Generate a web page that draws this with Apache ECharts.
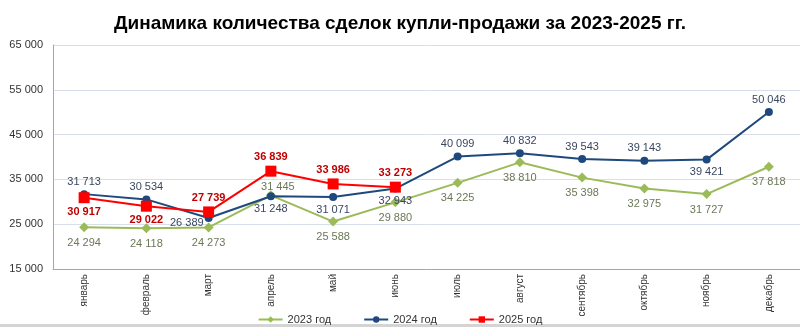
<!DOCTYPE html>
<html><head><meta charset="utf-8">
<script src="https://cdn.jsdelivr.net/npm/echarts@6/dist/echarts.min.js"></script>
<style>html,body{margin:0;padding:0;background:#fff}#c{width:800px;height:327px}</style>
</head><body><div id="c"></div>
<script>
// Monthly number of purchase-sale deals
const months = ['январь','февраль','март','апрель','май','июнь','июль','август','сентябрь','октябрь','ноябрь','декабрь'];
const deals2023 = [24294, 24118, 24273, 31445, 25588, 29880, 34225, 38810, 35398, 32975, 31727, 37818];
const deals2024 = [31713, 30534, 26389, 31248, 31071, 32943, 40099, 40832, 39543, 39143, 39421, 50046];
const deals2025 = [30917, 29022, 27739, 36839, 33986, 33273];
const yTicks = [15000, 25000, 35000, 45000, 55000, 65000];

// label placement per point
const pos2023 = ['bottom','bottom','bottom','top','bottom','bottom','bottom','bottom','bottom','bottom','bottom','bottom'];
const pos2024 = ['top','top','left','bottom','bottom','bottom','top','top','top','top','bottom','top'];
const pos2025 = ['bottom','bottom','top','top','top','top'];

const fmt = v => String(v).replace(/\B(?=(\d{3})+(?!\d))/g, ' ');

function points(values, positions, extra) {
  return values.map((v, i) => ({ value: v, label: Object.assign({ position: positions[i] }, extra && extra[i] || {}) }));
}

const chart = echarts.init(document.getElementById('c'), null, { renderer: 'canvas' });
chart.setOption({
  animation: false,
  textStyle: { fontFamily: 'Liberation Sans, Arial, sans-serif' },
  title: {
    text: 'Динамика количества сделок купли-продажи за 2023-2025 гг.',
    left: 'center', top: 9,
    textStyle: { fontSize: 19, fontWeight: 'bold', color: '#000' }
  },
  legend: {
    bottom: -3, left: 'center', itemWidth: 24, itemHeight: 8, itemGap: 32,
    textStyle: { fontSize: 11, color: '#333' },
    data: ['2023 год', '2024 год', '2025 год']
  },
  grid: { left: 53, right: 0, top: 45, bottom: 58 },
  xAxis: {
    type: 'category', data: months, boundaryGap: true,
    axisLine: { lineStyle: { color: '#a6a6a6' } },
    axisTick: { show: false },
    axisLabel: { rotate: 90, fontSize: 10, color: '#333', margin: 5 }
  },
  yAxis: {
    type: 'value', min: yTicks[0], max: yTicks[yTicks.length - 1], interval: 10000,
    axisLine: { show: true, lineStyle: { color: '#a6a6a6' } },
    axisTick: { show: false },
    splitLine: { lineStyle: { color: '#d9dfea' } },
    axisLabel: { fontSize: 11, color: '#333', formatter: fmt, margin: 10 }
  },
  graphic: [{
    type: 'rect', left: 0, bottom: 0, shape: { width: 800, height: 3 },
    style: { fill: '#d4d4d4' }, silent: true
  }],
  series: [
    {
      name: '2023 год', type: 'line',
      data: points(deals2023, pos2023, { 3: { offset: [7, 7] } }),
      symbol: 'diamond', symbolSize: 10,
      lineStyle: { color: '#9bbb59', width: 2 }, itemStyle: { color: '#9bbb59' },
      label: { show: true, formatter: p => fmt(p.value), fontSize: 11, color: '#6b7857', distance: 5 },
      z: 2
    },
    {
      name: '2024 год', type: 'line',
      data: points(deals2024, pos2024, { 2: { offset: [2, 5] } }),
      symbol: 'circle', symbolSize: 8,
      lineStyle: { color: '#1f497d', width: 2 }, itemStyle: { color: '#1f497d' },
      label: { show: true, formatter: p => fmt(p.value), fontSize: 11, color: '#3a4660', distance: 3 },
      z: 3
    },
    {
      name: '2025 год', type: 'line', data: points(deals2025, pos2025),
      symbol: 'rect', symbolSize: 11,
      lineStyle: { color: '#ff0000', width: 2 }, itemStyle: { color: '#ff0000' },
      label: { show: true, formatter: p => fmt(p.value), fontSize: 11, fontWeight: 'bold', color: '#c00000', distance: 3 },
      z: 4
    }
  ]
});
</script></body></html>
